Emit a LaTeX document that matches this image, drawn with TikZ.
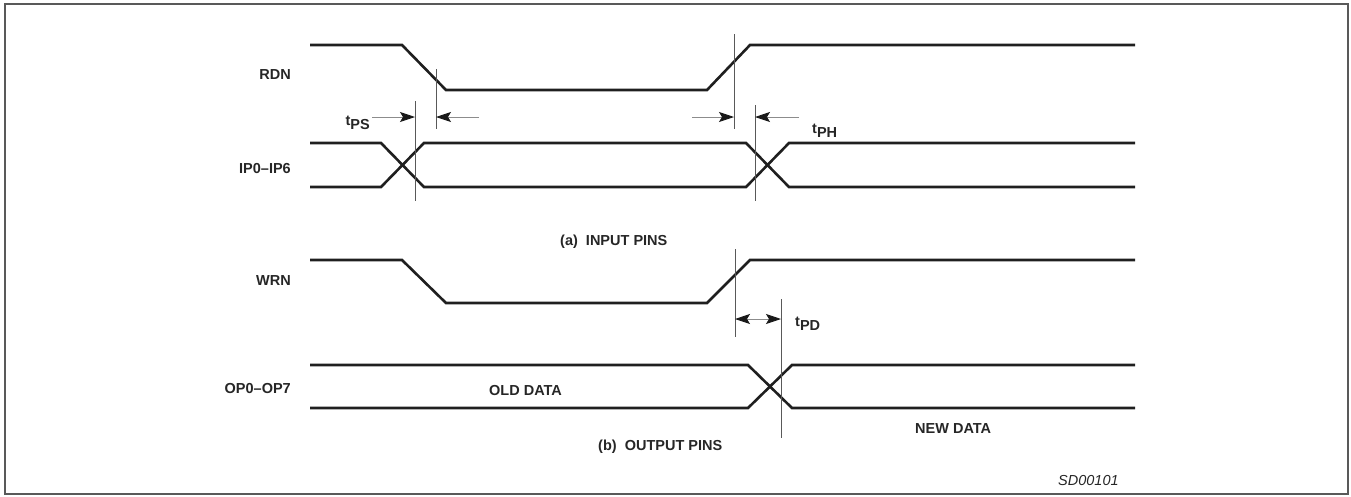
\documentclass[tikz,border=0pt]{standalone}
\usepackage{fontspec}
\setmainfont{Liberation Sans}
\usetikzlibrary{arrows.meta}
\begin{document}
\begin{tikzpicture}[x=1pt,y=-1pt,
  sig/.style={line width=2.6pt, draw=black!88, line join=miter},
  refl/.style={line width=0.9pt, draw=black!65},
  dim/.style={line width=0.9pt, draw=black!45, -{Stealth[length=15pt,width=10pt,inset=3pt,color=black!90]}},
  dimb/.style={line width=0.9pt, draw=black!45, {Stealth[length=15pt,width=10pt,inset=3pt,color=black!90]}-{Stealth[length=15pt,width=10pt,inset=3pt,color=black!90]}},
  lbl/.style={font=\bfseries\fontsize{14.5}{17}\selectfont, inner sep=0pt, text=black!85},
  frame/.style={line width=1.2pt, draw=black!65}]
\useasboundingbox (0,0) rectangle (1351,496);
\draw[frame] (5,4) rectangle (1348,494);
% signals
\draw[sig] (310,45) -- (402,45) -- (446,90) -- (707,90) -- (750,45) -- (1135,45);
\draw[sig] (310,143) -- (381,143) -- (424,187) -- (746,187) -- (789,143) -- (1135,143);
\draw[sig] (310,187) -- (381,187) -- (424,143) -- (746,143) -- (789,187) -- (1135,187);
\draw[sig] (310,260) -- (402,260) -- (446,303) -- (707,303) -- (750,260) -- (1135,260);
\draw[sig] (310,365) -- (748,365) -- (792,408) -- (1135,408);
\draw[sig] (310,408) -- (748,408) -- (792,365) -- (1135,365);
% reference lines
\coordinate (v1t) at (415,101); \coordinate (v1b) at (415,201);
\coordinate (v2t) at (436,69);  \coordinate (v2b) at (436,129);
\coordinate (v3t) at (734,34);  \coordinate (v3b) at (734,129);
\coordinate (v4t) at (755,105); \coordinate (v4b) at (755,201);
\coordinate (v5t) at (735,249); \coordinate (v5b) at (735,337);
\coordinate (v6t) at (781,299); \coordinate (v6b) at (781,438);
\foreach \v in {1,...,6} \draw[refl] (v\v t) -- (v\v b);
% arrow points
\coordinate (p1) at (415,117); \coordinate (q1) at (372,117);
\coordinate (p2) at (436,117); \coordinate (q2) at (479,117);
\coordinate (p3) at (734,117); \coordinate (q3) at (692,117);
\coordinate (p4) at (755,117); \coordinate (q4) at (799,117);
\coordinate (p5) at (735,319); \coordinate (p6) at (781,319);
\draw[dim] (q1) -- (p1);
\draw[dim] (q2) -- (p2);
\draw[dim] (q3) -- (p3);
\draw[dim] (q4) -- (p4);
\draw[dimb] (p5) -- (p6);
% labels
\node[lbl, anchor=base east] (rdn) at (291,79) {RDN};
\node[lbl, anchor=base east] (ip) at (291,173) {IP0–IP6};
\node[lbl, anchor=base east] (wrn) at (291,285) {WRN};
\node[lbl, anchor=base east] (op) at (291,393) {OP0–OP7};
\node[lbl, anchor=base east] (tps) at (370,125) {t\raisebox{-4pt}{PS}};
\node[lbl, anchor=base west] (tph) at (812,133) {t\raisebox{-4pt}{PH}};
\node[lbl, anchor=base west] (tpd) at (795,326) {t\raisebox{-4pt}{PD}};
\node[lbl, anchor=base west] (inp) at (560,245) {(a)\ \ INPUT PINS};
\node[lbl, anchor=base west] (outp) at (598,450) {(b)\ \ OUTPUT PINS};
\node[lbl, anchor=base west] (old) at (489,395) {OLD DATA};
\node[lbl, anchor=base west] (new) at (915,433) {NEW DATA};
\node[inner sep=0pt, anchor=base west, font=\itshape\fontsize{14.5}{17}\selectfont, text=black!85] (sd) at (1058,485) {SD00101};
\end{tikzpicture}
\end{document}
